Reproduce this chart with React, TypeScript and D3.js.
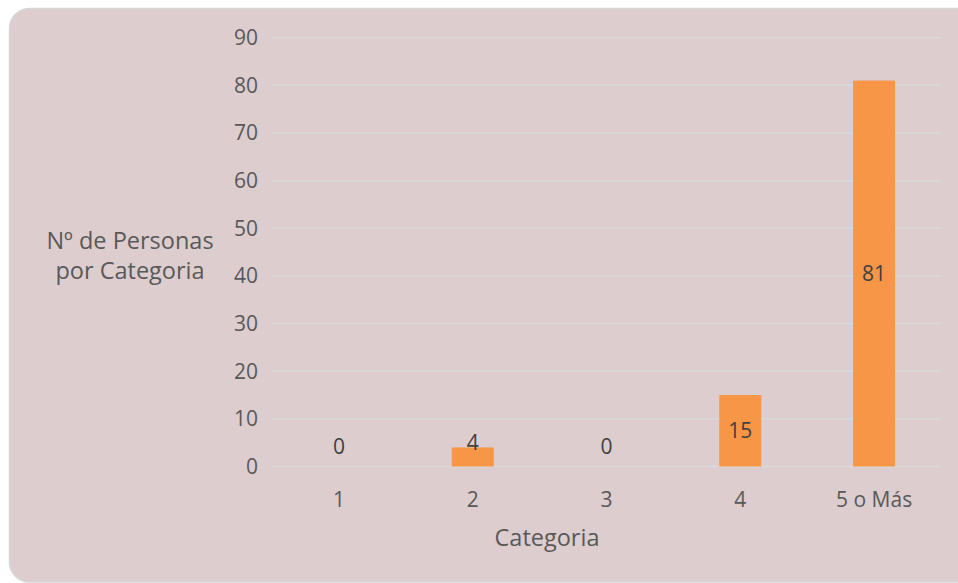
import React from "react";
import * as d3 from "d3";

const categories = ["1", "2", "3", "4", "5 o Más"];
const values = [0, 4, 0, 15, 81];
const yTicks = [0, 10, 20, 30, 40, 50, 60, 70, 80, 90];
const xTitle = "Categoria";
const yTitleLines = ["Nº de Personas", "por Categoria"];

const W = 958;
const H = 583;
const FONT = "'Open Sans', sans-serif";

export default function App() {
  const x = d3.scaleBand<string>().domain(categories).range([272, 941]).paddingInner(0.686).paddingOuter(0.343);
  const y = d3.scaleLinear().domain([0, 90]).range([466.5, 37.7]);
  const bw = 42;
  return (
    <svg width={W} height={H} style={{ position: "absolute", left: 0, top: 0 }} fontFamily={FONT}>
      <rect x={9.5} y={8.5} width={W + 20} height={573.5} rx={20} ry={20} fill="#DDCDCE" stroke="#D6D6D6" strokeWidth={1.5} />
      {yTicks.map((t) => (
        <g key={t}>
          <line x1={272} x2={941} y1={y(t)} y2={y(t)} stroke="#D9D9D9" strokeWidth={1.5} />
          <text x={258} y={y(t)} dy="0.35em" textAnchor="end" fontSize={21} fill="#595959">{t}</text>
        </g>
      ))}
      {categories.map((c, i) => {
        const cx = (x(c) as number) + x.bandwidth() / 2;
        const top = y(values[i]);
        const base = y(0);
        const mid = (top + base) / 2;
        const ly = base - top > 30 ? mid : Math.min(base - 20, top - 5);
        return (
          <g key={c}>
            {values[i] > 0 && <rect x={cx - bw / 2} y={top} width={bw} height={base - top} fill="#F79646" />}
            <text x={cx} y={ly} dy="0.35em" textAnchor="middle" fontSize={21} fill="#404040">{values[i]}</text>
            <text x={cx} y={500} dy="0.35em" textAnchor="middle" fontSize={21} fill="#595959">{c}</text>
          </g>
        );
      })}
      <text x={547} y={538} dy="0.35em" textAnchor="middle" fontSize={23.5} fill="#595959">{xTitle}</text>
      {yTitleLines.map((l, i) => (
        <text key={l} x={130} y={241 + i * 30} dy="0.35em" textAnchor="middle" fontSize={23.5} fill="#595959">{l}</text>
      ))}
    </svg>
  );
}
